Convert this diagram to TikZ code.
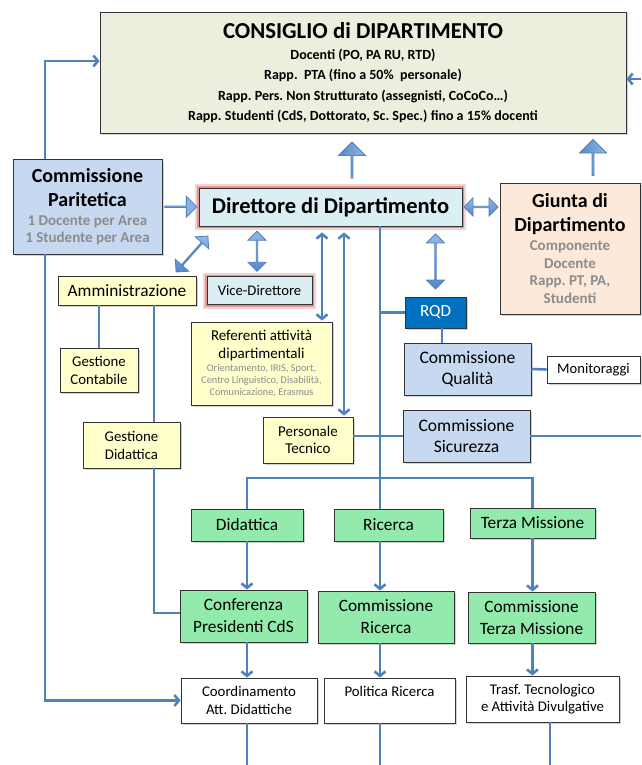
\documentclass[tikz,border=0pt]{standalone}
\usepackage{fontspec}
\setmainfont{Carlito}
\usepackage{xcolor}
\usetikzlibrary{arrows.meta, shapes.arrows, shadows}

\definecolor{consfill}{RGB}{235,240,222}
\definecolor{parfill}{RGB}{198,217,241}
\definecolor{dirfill}{RGB}{219,238,244}
\definecolor{giuntafill}{RGB}{253,233,217}
\definecolor{yellowfill}{RGB}{255,255,204}
\definecolor{rqdfill}{RGB}{0,112,192}
\definecolor{greenfill}{RGB}{146,234,172}
\definecolor{lineblue}{RGB}{79,129,189}
\definecolor{arrowlight}{RGB}{145,184,230}
\definecolor{arrowdark}{RGB}{86,136,204}
\definecolor{glowred}{RGB}{222,110,110}
\definecolor{greytext}{RGB}{140,140,140}
\frenchspacing

\begin{document}
\begin{tikzpicture}[x=1pt, y=-1pt,
    box/.style={draw=black!80, line width=0.9pt, align=center, inner sep=0pt,
        drop shadow={shadow xshift=1.5pt, shadow yshift=-1.5pt, fill=black!35}},
    glow/.style={preaction={draw=glowred!60, line width=8pt, opacity=0.5},
        preaction={draw=glowred, line width=4pt, opacity=0.6}},
    conn/.style={draw=lineblue, line width=2.6pt},
    arr/.style={-{Straight Barb[length=4.5pt,width=11pt]}},
    both/.style={{Straight Barb[length=4.5pt,width=11pt]}-{Straight Barb[length=4.5pt,width=11pt]}},
    blockarrow/.style={single arrow, draw=lineblue, line width=0.8pt,
        left color=arrowdark, right color=arrowlight,
        minimum width=27, single arrow head extend=5.5, inner sep=0pt},
    blockdouble/.style={double arrow, draw=lineblue, line width=0.8pt,
        top color=arrowlight, bottom color=arrowdark,
        minimum width=18, double arrow head extend=4.5, inner sep=0pt}
]
    \useasboundingbox (0,0) rectangle (641,765);

    % Bus positions
    \coordinate (leftbus) at (45,0);
    \coordinate (rightedge) at (641,0);
    \coordinate (spine) at (380,0);
    \coordinate (refbus) at (322,0);
    \coordinate (persbus) at (344,0);
    \coordinate (didbus) at (154,0);
    \coordinate (qualbus) at (442,0);
    \coordinate (trbus) at (550,0);
    \coordinate (brk) at (0,478);
    \coordinate (consin) at (0,61);
    \coordinate (consback) at (0,79);
    \coordinate (bottomedge) at (0,765);

    % Council
    \node[box, fill=consfill, minimum width=526, minimum height=121,
          font=\fontsize{14}{20.5}\selectfont\bfseries] (cons) at (363,72.5)
        {{\fontsize{22.8}{26}\selectfont CONSIGLIO di DIPARTIMENTO}\\[0.5pt]
         Docenti (PO, PA RU, RTD)\\
         Rapp.\ \ PTA (fino a 50\%\ \ personale)\\
         Rapp. Pers. Non Strutturato (assegnisti, CoCoCo…)\\
         Rapp. Studenti (CdS, Dottorato, Sc. Spec.) fino a 15\% docenti};

    % Top level
    \node[box, fill=parfill, minimum width=149, minimum height=95,
          font=\fontsize{15}{17}\selectfont\bfseries] (par) at (87.5,206.5)
        {{\fontsize{20}{24}\selectfont Commissione}\\[7pt]
         {\fontsize{20}{24}\selectfont Paritetica}\\[2pt]
         {\color{greytext}1 Docente per Area}\\
         {\color{greytext}1 Studente per Area}};
    \node[box, glow, fill=dirfill, minimum width=263, minimum height=38,
          font=\fontsize{22.5}{26}\selectfont\bfseries] (dir) at (330.5,207)
        {Direttore di Dipartimento};
    \node[box, fill=giuntafill, minimum width=140, minimum height=131,
          font=\fontsize{15}{17.7}\selectfont\bfseries] (giunta) at (570,248.5)
        {{\fontsize{20}{24}\selectfont Giunta di}\\[6.3pt]
         {\fontsize{20}{24}\selectfont Dipartimento}\\[1.5pt]
         {\color{greytext}Componente}\\
         {\color{greytext}Docente}\\
         {\color{greytext}Rapp. PT, PA,}\\
         {\color{greytext}Studenti}};

    % Administration
    \node[box, fill=yellowfill, minimum width=138, minimum height=29,
          font=\fontsize{17.3}{21}\selectfont] (amm) at (127,290.5) {Amministrazione};
    \node[box, glow, fill=dirfill, minimum width=105, minimum height=28,
          font=\fontsize{14.7}{18}\selectfont] (vice) at (259.5,290.5) {Vice-Direttore};
    \node[box, fill=yellowfill, minimum width=78, minimum height=44,
          font=\fontsize{14.8}{18}\selectfont] (gcont) at (99,370) {Gestione\\Contabile};
    \node[box, fill=yellowfill, minimum width=97, minimum height=46,
          font=\fontsize{14.8}{18}\selectfont] (gdid) at (131.5,445) {Gestione\\Didattica};
    \node[box, fill=yellowfill, minimum width=141, minimum height=83,
          font=\fontsize{10.3}{12}\selectfont] (ref) at (261.5,363.5)
        {{\fontsize{15}{18}\selectfont Referenti attività}\\[6pt]
         {\fontsize{15}{18}\selectfont dipartimentali}\\[1pt]
         {\color{greytext}Orientamento, IRIS, Sport,}\\
         {\color{greytext}Centro Linguistico, Disabilità,}\\
         {\color{greytext}Comunicazione, Erasmus}};
    \node[box, fill=yellowfill, minimum width=90, minimum height=46,
          font=\fontsize{15}{17}\selectfont] (pers) at (308,440) {Personale\\Tecnico};

    % Quality and safety
    \node[box, fill=rqdfill, text=white, minimum width=61, minimum height=31,
          font=\fontsize{17}{20}\selectfont] (rqd) at (435.5,312.5) {RQD};
    \node[box, fill=parfill, minimum width=127, minimum height=52,
          font=\fontsize{17.6}{21}\selectfont] (qual) at (467.5,369) {Commissione\\Qualità};
    \node[box, fill=white, minimum width=93, minimum height=27,
          font=\fontsize{14.6}{18}\selectfont] (mon) at (593.5,369.5) {Monitoraggi};
    \node[box, fill=parfill, minimum width=127, minimum height=52,
          font=\fontsize{17.6}{21}\selectfont] (sic) at (466.5,436) {Commissione\\Sicurezza};

    % Areas
    \node[box, fill=greenfill, minimum width=112, minimum height=32,
          font=\fontsize{17.3}{22}\selectfont] (did) at (247,525) {Didattica};
    \node[box, fill=greenfill, minimum width=109, minimum height=32,
          font=\fontsize{17.3}{22}\selectfont] (ric) at (388.5,525) {Ricerca};
    \node[box, fill=greenfill, minimum width=125, minimum height=30,
          font=\fontsize{17.3}{22}\selectfont] (ter) at (532.5,523) {Terza Missione};
    \node[box, fill=greenfill, minimum width=127, minimum height=52,
          font=\fontsize{17.3}{22}\selectfont] (conf) at (243.5,616) {Conferenza\\Presidenti CdS};
    \node[box, fill=greenfill, minimum width=136, minimum height=52,
          font=\fontsize{17.3}{22}\selectfont] (cric) at (386,617) {Commissione\\Ricerca};
    \node[box, fill=greenfill, minimum width=127, minimum height=51,
          font=\fontsize{17.3}{22}\selectfont] (cter) at (531.5,617.5) {Commissione\\Terza Missione};
    \node[box, fill=white, minimum width=136, minimum height=45,
          font=\fontsize{14.8}{17.5}\selectfont] (coord) at (249,700.5) {Coordinamento\\Att. Didattiche};
    \node[box, fill=white, minimum width=131, minimum height=45,
          font=\fontsize{14.8}{17.5}\selectfont] (pol) at (389.5,700.5) {Politica Ricerca\\\mbox{}};
    \node[box, fill=white, minimum width=153, minimum height=46,
          font=\fontsize{14.8}{17.5}\selectfont] (trasf) at (542.5,699) {Trasf. Tecnologico\\e Attività Divulgative};

    % Block arrows
    \coordinate (upA) at ([xshift=21.5pt]dir.north);
    \coordinate (upB) at ([xshift=23pt]giunta.north);
    \coordinate (viceA) at ([xshift=-2.5pt]vice.north);
    \path (par.east) -- (dir.west) node[blockarrow, midway, minimum height=32, minimum width=21,
        single arrow head extend=5, left color=arrowlight, right color=arrowlight!80!arrowdark] {};
    \path (upA) -- (upA |- cons.south) node[blockarrow, midway, rotate=90, minimum height=36] {};
    \path (upB) -- (upB |- cons.south) node[blockarrow, midway, rotate=90, minimum height=36] {};
    \path (dir.east) -- (dir.east -| giunta.west) node[blockdouble, midway, minimum height=34] {};
    \path ([shift={(9,10)}]dir.south west) -- ([shift={(-20,-4)}]amm.north east)
        node[blockdouble, midway, sloped, minimum height=48] {};
    \path (viceA) -- (viceA |- dir.south) node[blockdouble, midway, rotate=90, minimum height=40] {};
    \path (rqd.north) -- (rqd.north |- dir.south) node[blockdouble, midway, rotate=90, minimum height=55] {};

    % Left and right lines
    \draw[conn, arr] (par.north -| leftbus) |- (cons.west |- consin);
    \draw[conn, arr] (par.south -| leftbus) |- (coord.west);
    \draw[conn, arr] (rightedge |- consback) -- (cons.east |- consback);
    \draw[conn] (sic.east) -- (sic.east -| rightedge);

    % Director lines
    \draw[conn, both, shorten <=6pt, shorten >=1pt] (dir.south -| refbus) -- (ref.north -| refbus);
    \draw[conn, both, shorten <=6pt, shorten >=1pt] (dir.south -| persbus) -- (pers.north -| persbus);
    \draw[conn] (dir.south -| spine) -- (ric.north -| spine);
    \draw[conn] (rqd.west -| spine) -- (rqd.west);
    \draw[conn] (rqd.south -| qualbus) -- (qual.north -| qualbus);
    \draw[conn] (qual.east) -- (mon.west);
    \draw[conn] (sic.west) -- (sic.west -| pers.east);

    % Administration lines
    \draw[conn] (amm.south -| gcont.north) -- (gcont.north);
    \draw[conn] (amm.south -| didbus) -- (gdid.north -| didbus);
    \draw[conn] (gdid.south -| didbus) |- ([yshift=3pt]conf.west);

    % Areas
    \draw[conn] (did.north) |- (ter.north |- brk) -- (ter.north);
    \draw[conn, arr] (did.south) -- (conf.north -| did.south);
    \draw[conn, arr] (ric.south -| spine) -- (cric.north -| spine);
    \draw[conn, arr] (ter.south) -- (cter.north -| ter.south);
    \draw[conn, arr] (conf.south -| did.south) -- (coord.north -| did.south);
    \draw[conn, arr] (cric.south -| spine) -- (pol.north -| spine);
    \draw[conn, arr] (cter.south -| ter.south) -- (trasf.north -| ter.south);
    \draw[conn] (coord.south -| did.south) -- (bottomedge -| did.south);
    \draw[conn] (pol.south -| spine) -- (bottomedge -| spine);
    \draw[conn] (trasf.south -| trbus) -- (bottomedge -| trbus);
\end{tikzpicture}
\end{document}
